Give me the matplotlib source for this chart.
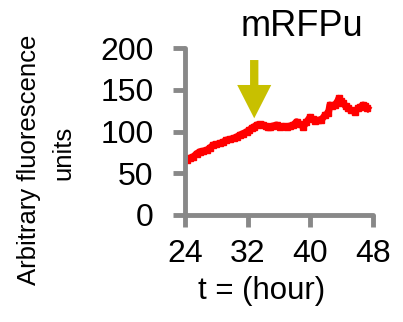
import matplotlib.pyplot as plt

plt.rcParams['font.family'] = ['Liberation Sans', 'DejaVu Sans']

# time (hour) and fluorescence
t = [24.2, 24.6, 25.06, 25.5, 25.9, 26.3, 26.8, 27.2, 27.6, 28.0, 28.5, 28.9,
     29.3, 29.7, 30.2, 30.6, 31.0, 31.4, 31.9, 32.2, 32.5, 32.8, 33.15, 33.6,
     34.0, 34.3, 34.6, 34.85, 35.2, 35.7, 36.1, 36.6, 37.0, 37.4, 37.8, 38.25,
     38.7, 39.1, 39.5, 39.95, 40.3, 40.6, 41.0, 41.4, 41.9, 42.3, 42.5, 42.8,
     43.1, 43.4, 43.65, 43.9, 44.2, 44.5, 44.8, 45.2, 45.7, 46.1, 46.4, 46.75,
     47.0, 47.3]
fluo = [65.9, 68.0, 69.8, 73.5, 75.8, 76.5, 77.8, 80.5, 83.8, 84.5, 85.9, 87.5,
        89.8, 90.5, 91.8, 93.5, 95.8, 97.5, 99.8, 101.5, 103.8, 105.5, 107.8, 108.5,
        107.8, 106.5, 105.0, 105.8, 106.5, 107.8, 105.8, 106.2, 105.5, 106.6, 107.5, 111.7,
        108.5, 105.8, 111.0, 117.0, 114.5, 112.9, 113.5, 113.8, 119.8, 121.8, 131.7, 130.5,
        131.7, 134.5, 139.8, 136.5, 133.8, 130.5, 127.8, 125.5, 123.7, 127.8, 129.5, 131.7,
        130.0, 127.8]

arrow_t = 32.84
arrow_tip = 115.8
arrow_top = 185.6

gray = '#888888'

fig = plt.figure(figsize=(4.03, 3.22), dpi=100)
ax = fig.add_axes([0.459, 0.3323, 0.4665, 0.5186])

ax.plot(t, fluo, color='red', lw=5, marker='s', ms=4.5, solid_joinstyle='round')

ax.annotate('', xy=(arrow_t, arrow_tip), xytext=(arrow_t, arrow_top),
            arrowprops=dict(width=6, headwidth=24.5, headlength=24, shrink=0,
                            facecolor='#c8c000', edgecolor='none'))

ax.set_xlim(24, 48)
ax.set_ylim(0, 200)
ax.set_xticks([24, 32, 40, 48])
ax.set_yticks([0, 50, 100, 150, 200])

for s in ['top', 'right']:
    ax.spines[s].set_visible(False)
for s in ['left', 'bottom']:
    ax.spines[s].set_color(gray)
    ax.spines[s].set_linewidth(3.5)
    ax.spines[s].set_capstyle('round')
ax.tick_params(length=8.5, width=3.5, color=gray, labelsize=23)
ax.tick_params(axis='y', pad=14)
ax.tick_params(axis='x', pad=9)

fig.text(0.75, 1 - 36 / 322, 'mRFPu', fontsize=26, ha='center', va='baseline')
fig.text(262 / 403, 1 - 299 / 322, 't = (hour)', fontsize=22.5, ha='center', va='baseline')
fig.text(29 / 403, 1 - 160 / 322, 'Arbitrary fluorescence', fontsize=18.5,
         rotation=90, ha='center', va='center')
fig.text(63 / 403, 1 - 153 / 322, 'units', fontsize=18.5,
         rotation=90, ha='center', va='center')

fig.savefig('out.png', dpi=100)
